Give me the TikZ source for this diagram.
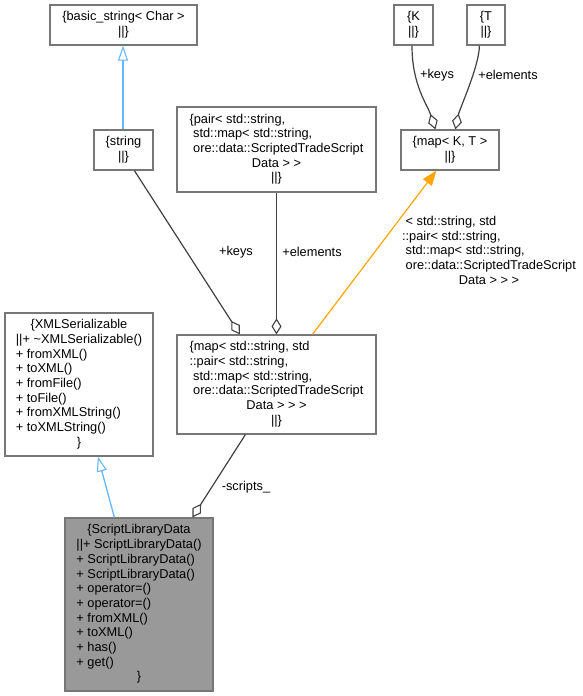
\documentclass[tikz,border=0pt]{standalone}
\usepackage{fontspec}
\setmainfont{Liberation Sans}
\usetikzlibrary{arrows.meta}
\definecolor{boxgray}{HTML}{777777}
\definecolor{edgegray}{HTML}{404040}
\definecolor{inhblue}{HTML}{63B8FF}
\definecolor{tplorange}{HTML}{FFA500}
\definecolor{mainfill}{HTML}{999999}
\newcommand\ctrline[1]{\multicolumn{1}{@{}c@{}}{#1}}
\begin{document}
\begin{tikzpicture}[x=1pt,y=-1pt,
  cls/.style={draw=boxgray,line width=1.2pt,fill=white,inner sep=0pt,font=\fontsize{12.8}{14.7}\selectfont},
  lbl/.style={font=\fontsize{12.8}{14.7}\selectfont,inner sep=0pt},
  member/.style={draw=edgegray,line width=1.2pt,-{Diamond[open,length=16pt,width=10pt,line width=1.1pt]}},
  inherit/.style={draw=inhblue,line width=1.3pt,-{Triangle[open,length=15pt,width=10pt,line width=1.1pt]}},
  templ/.style={draw=tplorange,color=tplorange,line width=1.2pt,-{Triangle[length=15pt,width=11pt]}}]
\useasboundingbox (0,0) rectangle (582,696);

% boxes
\node[cls,minimum width=147pt,minimum height=40pt] (bs) at (123.5,25)
  {\begin{tabular}{@{}c@{}}\{basic\_string< Char >\\||\}\end{tabular}};
\node[cls,minimum width=59pt,minimum height=40pt] (str) at (123.5,150)
  {\begin{tabular}{@{}c@{}}\{string\\||\}\end{tabular}};
\node[cls,minimum width=199pt,minimum height=85pt] (pair) at (276.5,149.5)
  {\begin{tabular}{@{}l@{}}\{pair< std::string,\\\ std::map< std::string,\\\ ore::data::ScriptedTradeScript\\\ctrline{Data > >}\\\ctrline{||\}}\end{tabular}};
\node[cls,minimum width=39pt,minimum height=40pt] (kk) at (413.5,25)
  {\begin{tabular}{@{}c@{}}\{K\\||\}\end{tabular}};
\node[cls,minimum width=38pt,minimum height=40pt] (tt) at (486,25)
  {\begin{tabular}{@{}c@{}}\{T\\||\}\end{tabular}};
\node[cls,minimum width=98pt,minimum height=40pt] (mkt) at (450,150)
  {\begin{tabular}{@{}c@{}}\{map< K, T >\\||\}\end{tabular}};
\node[cls,minimum width=148pt,minimum height=143pt] (xml) at (79,384.5)
  {\begin{tabular}{@{}l@{}}\ctrline{\{XMLSerializable}\\||+ \textasciitilde XMLSerializable()\\+ fromXML()\\+ toXML()\\+ fromFile()\\+ toFile()\\+ fromXMLString()\\+ toXMLString()\\\ctrline{\}}\end{tabular}};
\node[cls,minimum width=199pt,minimum height=99pt] (msp) at (276.5,384.5)
  {\begin{tabular}{@{}l@{}}\{map< std::string, std\\::pair< std::string,\\\ std::map< std::string,\\\ ore::data::ScriptedTradeScript\\\ctrline{Data > > >}\\\ctrline{||\}}\end{tabular}};
\node[cls,fill=mainfill,minimum width=148pt,minimum height=173pt] (sld) at (139,604.5)
  {\begin{tabular}{@{}l@{}}\ctrline{\{ScriptLibraryData}\\||+ ScriptLibraryData()\\+ ScriptLibraryData()\\+ ScriptLibraryData()\\+ operator=()\\+ operator=()\\+ fromXML()\\+ toXML()\\+ has()\\+ get()\\\ctrline{\}}\end{tabular}};

% edges
\draw[inherit] ([xshift=-0.5pt]str.north) -- ([xshift=-0.5pt]bs.south);
\draw[inherit] ([xshift=50pt]sld.north west) -- ([xshift=93.5pt]xml.south west);
\draw[member] ([xshift=41pt]str.south west) -- ([xshift=63.5pt]msp.north west);
\draw[member] (pair.south) -- (msp.north);
\draw[templ] ([xshift=136pt]msp.north west) -- ([xshift=36pt]mkt.south west);
\draw[member] ([xshift=-1.5pt]kk.south) .. controls +(0,40) and +(-8,-25) .. ([xshift=35pt]mkt.north west);
\draw[member] ([xshift=13pt]tt.south west) .. controls +(0,20) and +(4,-20) .. ([xshift=55pt]mkt.north west);
\draw[member] ([xshift=69pt]msp.south west) -- ([xshift=128pt]sld.north west);

% labels
\node[lbl] (lkeys) at (236,252) {+keys};
\node[lbl] (lelem) at (312,252) {+elements};
\node[lbl] (lkeys2) at (437,75) {+keys};
\node[lbl] (lelem2) at (508,75) {+elements};
\node[lbl] (lscr) at (246,487) {-scripts\_};
\node[lbl] (ltpl) at (489,252)
  {\begin{tabular}{@{}l@{}}\ < std::string, std\\::pair< std::string,\\\ std::map< std::string,\\\ ore::data::ScriptedTradeScript\\\ctrline{Data > > >}\end{tabular}};
\end{tikzpicture}
\end{document}
